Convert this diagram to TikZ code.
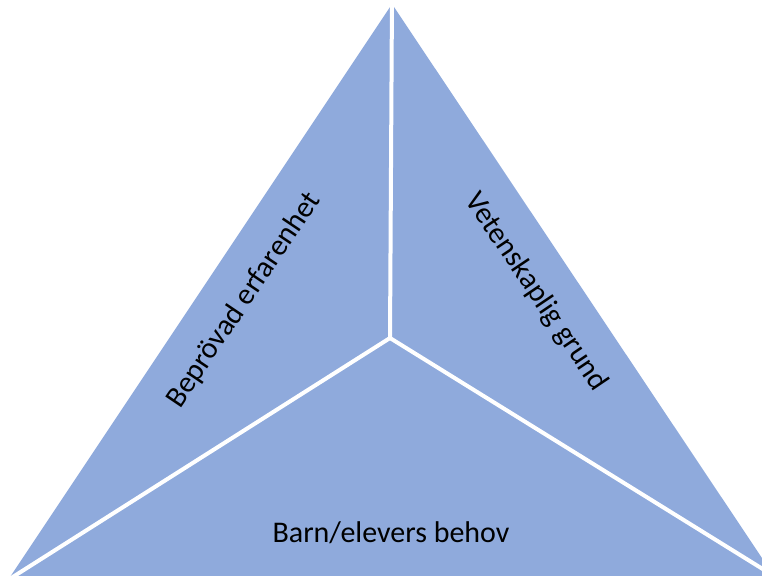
\documentclass[tikz,border=0pt]{standalone}
\usepackage{fontspec}
\setmainfont{Carlito}
\definecolor{facefill}{HTML}{8FAADC}

\begin{document}
\begin{tikzpicture}[x=1pt,y=-1pt,line join=miter,
                    face/.style={fill=facefill,draw=none},
                    gap/.style={draw=white,line width=4pt},
                    label/.style={font=\fontsize{30}{36}\selectfont,text=black}]
  \useasboundingbox (0,0) rectangle (762,575);
  \clip (0,0) rectangle (762,575);

  \coordinate (apex) at (392,4);
  \coordinate (mid) at (390,338);
  \coordinate (left) at (8,580);
  \coordinate (right) at (774,576);

  \fill[face] (apex) -- (left) -- (left |- 0,600) -- (right |- 0,600) -- (right) -- cycle;

  \draw[gap] (mid) -- (apex |- 0,-5);
  \draw[gap] (mid) -- (left);
  \draw[gap] (mid) -- (right);

  \node[label,rotate=56] (exp) at (244,300) {Beprövad erfarenhet};
  \node[label,rotate=-56] (sci) at (536,292) {Vetenskaplig grund};
  \node[label] (need) at (391,533) {Barn/elevers behov};
\end{tikzpicture}
\end{document}
